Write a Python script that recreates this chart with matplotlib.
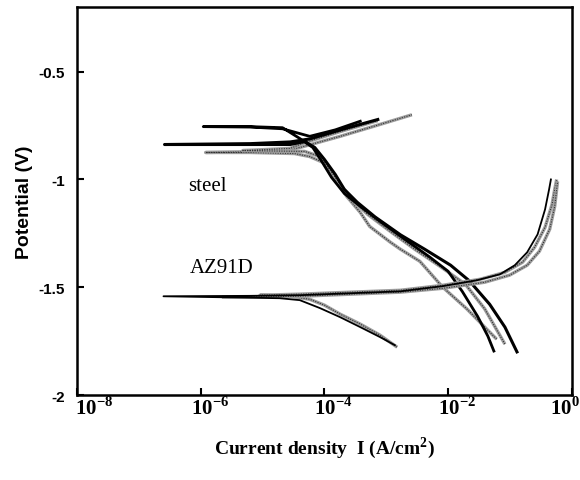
import numpy as np
import matplotlib.pyplot as plt
import matplotlib.transforms as mtransforms

plt.rcParams['mathtext.fontset'] = 'custom'
plt.rcParams['mathtext.rm'] = 'Liberation Serif:bold'
plt.rcParams['mathtext.bf'] = 'Liberation Serif:bold'

# --- steel polarization curves (current density A/cm2, potential V) ---
steel_a_i = [1.3e-1, 8.3e-2, 4.7e-2, 2.2e-2, 1.1e-2, 4.2e-3, 1.7e-3, 6.6e-4, 3.4e-4,
             2.1e-4, 1.5e-4, 1.0e-4, 7.0e-5, 4.8e-5, 2.8e-5, 6.3e-6, 2.6e-7,
             6.3e-6, 2.8e-5, 5.8e-5, 2.1e-4, 7.3e-4]
steel_a_E = [-1.80, -1.685, -1.579, -1.47, -1.398, -1.324, -1.257, -1.174, -1.106,
             -1.046, -0.977, -0.907, -0.852, -0.824, -0.838, -0.838, -0.838,
             -0.834, -0.826, -0.812, -0.765, -0.722]

steel_b_i = [5.5e-2, 4.4e-2, 3.0e-2, 1.7e-2, 1.0e-2, 5.1e-3, 2.0e-3, 7.9e-4, 3.8e-4,
             2.1e-4, 1.3e-4, 9.1e-5, 6.5e-5, 4.0e-5, 2.1e-5, 6.3e-6, 1.1e-6,
             6.3e-6, 2.1e-5, 5.8e-5, 1.5e-4, 3.8e-4]
steel_b_E = [-1.796, -1.727, -1.635, -1.52, -1.426, -1.361, -1.278, -1.194, -1.125,
             -1.065, -0.99, -0.917, -0.852, -0.81, -0.76, -0.755, -0.755,
             -0.757, -0.765, -0.80, -0.77, -0.73]

steel_c_i = [6.1e-2, 2.0e-2, 8.2e-3, 3.5e-3, 1.7e-3, 1.15e-3, 5.4e-4, 3.8e-4, 2.3e-4,
             1.5e-4, 9.5e-5, 5.8e-5, 3.3e-5, 6.3e-6, 1.2e-6,
             6.3e-6, 2.8e-5, 4.0e-5, 1.8e-4, 7.9e-4, 2.6e-3]
steel_c_E = [-1.741, -1.60, -1.50, -1.38, -1.324, -1.29, -1.218, -1.153, -1.079,
             -1.0, -0.921, -0.894, -0.88, -0.875, -0.875,
             -0.872, -0.861, -0.852, -0.80, -0.745, -0.70]

steel_d_i = [8.3e-2, 3.9e-2, 1.9e-2, 7.4e-3, 2.9e-3, 1.15e-3, 5.0e-4, 2.8e-4, 1.8e-4,
             1.2e-4, 8.5e-5, 4.8e-5, 4.8e-6,
             2.8e-5, 4.8e-5, 1.8e-4, 7.3e-4]
steel_d_E = [-1.764, -1.60, -1.486, -1.403, -1.324, -1.24, -1.162, -1.093, -1.023,
             -0.954, -0.894, -0.87, -0.866,
             -0.856, -0.829, -0.778, -0.727]

# --- AZ91D polarization curves ---
az_a_i = [1.38e-3, 7.9e-4, 3.8e-4, 1.8e-4, 8.5e-5, 4.0e-5, 1.9e-5, 2.5e-7,
          6.3e-6, 4.0e-5, 2.6e-4, 1.7e-3, 8.2e-3, 2.9e-2, 6.9e-2, 1.2e-1,
          1.9e-1, 2.8e-1, 3.7e-1, 4.3e-1, 4.6e-1]
az_a_E = [-1.769, -1.731, -1.685, -1.639, -1.597, -1.56, -1.551, -1.542,
          -1.540, -1.537, -1.528, -1.519, -1.495, -1.468, -1.44, -1.398,
          -1.338, -1.255, -1.139, -1.046, -1.0]

az_b_i = [1.5e-3, 7.9e-4, 3.8e-4, 1.8e-4, 1.0e-4, 5.8e-5, 2.8e-5, 9.1e-6,
          4.0e-5, 2.6e-4, 1.7e-3, 8.2e-3, 3.3e-2, 8.3e-2, 1.6e-1, 2.5e-1,
          3.7e-1, 4.8e-1, 5.3e-1, 5.7e-1]
az_b_E = [-1.778, -1.722, -1.671, -1.625, -1.583, -1.556, -1.542, -1.537,
          -1.532, -1.523, -1.514, -1.491, -1.463, -1.431, -1.384, -1.315,
          -1.222, -1.116, -1.046, -1.0]

az_c_i = [2.2e-6, 4.0e-5, 1.7e-3, 8.2e-3, 3.9e-2, 9.9e-2, 1.9e-1, 3.0e-1,
          4.4e-1, 5.3e-1, 5.9e-1]
az_c_E = [-1.546, -1.542, -1.523, -1.505, -1.477, -1.444, -1.398, -1.333,
          -1.231, -1.125, -1.009]

x_ticks = [1e-8, 1e-6, 1e-4, 1e-2, 1e0]
x_labels = [r'$10^{-8}$', r'$10^{-6}$', r'$10^{-4}$', r'$10^{-2}$', r'$10^{0}$']
y_ticks = [-2, -1.5, -1, -0.5]
y_labels = ['-2', '-1.5', '-1', '-0.5']

fig = plt.figure(figsize=(5.8, 4.81), dpi=100)
ax = fig.add_axes([0.1328, 0.1767, 0.853, 0.8067])


def hatched(i, E):
    # grey curve with a dark dotted core, looks like densely packed markers
    ax.plot(i, E, color='0.62', linewidth=2.4, solid_capstyle='butt')
    ax.plot(i, E, color='0.2', linewidth=0.8, linestyle=(0, (1, 1.2)))


def solid(i, E, lw=2.0):
    ax.plot(i, E, color='black', linewidth=lw)


# steel
hatched(steel_c_i, steel_c_E)
hatched(steel_d_i, steel_d_E)
solid(steel_a_i, steel_a_E, 2.2)
solid(steel_b_i, steel_b_E, 2.0)

# AZ91D
hatched(az_b_i, az_b_E)
hatched(az_c_i, az_c_E)
solid(az_a_i, az_a_E, 1.3)

ax.text(1.3e-6, -1.03, 'steel', family='Liberation Serif', fontsize=15,
        ha='center', va='center')
ax.text(2.2e-6, -1.41, 'AZ91D', family='Liberation Serif', fontsize=15,
        ha='center', va='center')

ax.set_xscale('log')
ax.set_xlim(1e-8, 1e0)
ax.set_ylim(-2, -0.2)
ax.set_xticks(x_ticks)
ax.set_xticklabels([])
ax.xaxis.set_minor_locator(plt.NullLocator())
ax.set_yticks(y_ticks)
ax.set_yticklabels(y_labels, family='Liberation Sans', fontweight='bold', fontsize=11)

# x labels drawn by hand: "10" sits on the tick, the end labels are pulled inside
shifts = [-2, -10, -10, -10, -22]
for t, lab, dx in zip(x_ticks, x_labels, shifts):
    tr = ax.get_xaxis_transform() + mtransforms.ScaledTranslation(
        dx / 100, -19 / 100, fig.dpi_scale_trans)
    ax.text(t, 0, lab, transform=tr, ha='left', va='baseline', fontsize=15,
            clip_on=False)

ax.tick_params(axis='both', direction='in', length=5, width=1.5)
ax.tick_params(axis='y', pad=9)
for s in ax.spines.values():
    s.set_linewidth(1.8)

ax.set_xlabel(r'Current density  I (A/cm$^{2}$)', family='Liberation Serif',
              fontweight='bold', fontsize=14, labelpad=25)
ax.set_ylabel('Potential (V)', family='Liberation Sans', fontweight='bold',
              fontsize=14, labelpad=4)

plt.savefig('out.png', dpi=100)
